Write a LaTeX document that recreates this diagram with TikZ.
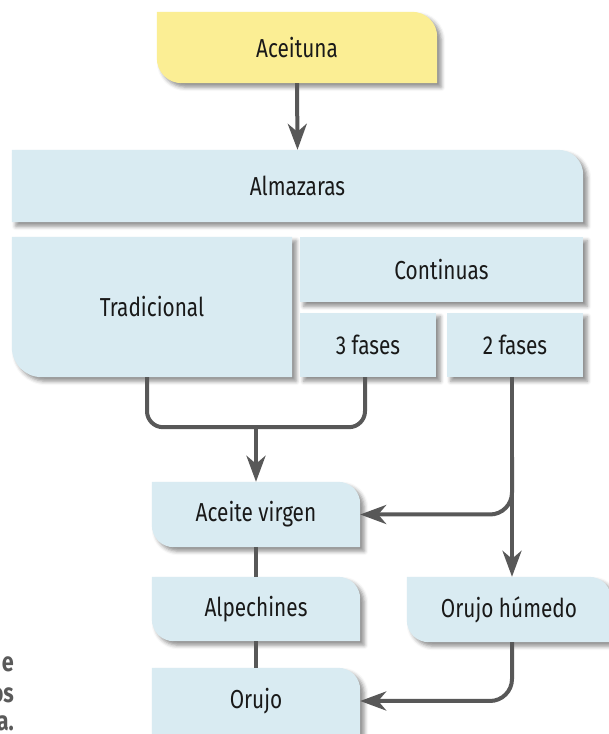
\documentclass[tikz,border=0pt]{standalone}
\usepackage{fontspec}
\setmainfont{Fira Sans}[FakeStretch=0.8]
\usetikzlibrary{arrows.meta,backgrounds,shadows.blur}
\definecolor{yelF}{RGB}{251,238,148}
\definecolor{bluF}{RGB}{217,235,242}
\definecolor{lineC}{RGB}{88,88,88}
\definecolor{txtC}{RGB}{25,25,25}
\definecolor{capC}{RGB}{90,90,90}
\newcommand\shTRBL[3]{\path[#3] (#1.north west) -- ([xshift=-#2]#1.north east) arc[start angle=90,end angle=0,radius=#2] -- (#1.south east) -- ([xshift=#2]#1.south west) arc[start angle=270,end angle=180,radius=#2] -- cycle;}
\newcommand\shTR[3]{\path[#3] (#1.north west) -- ([xshift=-#2]#1.north east) arc[start angle=90,end angle=0,radius=#2] -- (#1.south east) -- (#1.south west) -- cycle;}
\newcommand\shBL[3]{\path[#3] (#1.north west) -- (#1.north east) -- (#1.south east) -- ([xshift=#2]#1.south west) arc[start angle=270,end angle=180,radius=#2] -- cycle;}
\newcommand\shRect[2]{\path[#2] (#1.north west) rectangle (#1.south east);}
\tikzset{
  txtbox/.style={inner sep=0pt, text=txtC, font=\fontsize{26}{30}\selectfont},
  shade/.style={blur shadow={shadow xshift=4pt, shadow yshift=-4pt, shadow blur radius=4pt, shadow opacity=45}},
  yfill/.style={fill=yelF, shade},
  bfill/.style={fill=bluF, shade},
  conn/.style={draw=lineC, line width=4pt},
  arr/.style={conn, -{Stealth[length=26pt,width=19pt,inset=8pt]}},
  captxt/.style={inner sep=0pt, text=capC, font=\fontsize{27}{30}\selectfont\bfseries, anchor=base east}
}
\begin{document}
\begin{tikzpicture}[x=1pt,y=1pt]
\useasboundingbox (0,0) rectangle (609,734);
% nodes
\node[txtbox, minimum width=280pt, minimum height=71pt] (ace) at (297,686.5) {Aceituna};
\node[txtbox, minimum width=571pt, minimum height=72pt] (alm) at (297.5,548) {Almazaras};
\node[txtbox, minimum width=280pt, minimum height=140pt] (trad) at (152,427) {Tradicional};
\node[txtbox, minimum width=283pt, minimum height=65pt] (cont) at (441.5,464.5) {Continuas};
\node[txtbox, minimum width=136pt, minimum height=64pt] (f3) at (368,389) {3 fases};
\node[txtbox, minimum width=136pt, minimum height=64pt] (f2) at (515,389) {2 fases};
\node[txtbox, minimum width=208pt, minimum height=65pt] (av) at (256,219.5) {Aceite virgen};
\node[txtbox, minimum width=208pt, minimum height=64pt] (alp) at (256,125) {Alpechines};
\node[txtbox, minimum width=204pt, minimum height=65pt] (oh) at (509,124.5) {Orujo húmedo};
\node[txtbox, minimum width=208pt, minimum height=66pt] (oru) at (256,33) {Orujo};
% caption fragments (cut off at the left edge, as in the reference)
\node[captxt] (c1) at (14,62) {e};
\node[captxt] (c2) at (14,31) {os};
\node[captxt] (c3) at (14,3) {a.};
% shapes
\begin{scope}[on background layer]
\shTRBL{ace}{25pt}{yfill}
\shTR{alm}{25pt}{bfill}
\shBL{trad}{30pt}{bfill}
\shRect{cont}{bfill}
\shRect{f3}{bfill}
\shRect{f2}{bfill}
\shTRBL{av}{22pt}{bfill}
\shTRBL{alp}{22pt}{bfill}
\shTRBL{oh}{22pt}{bfill}
\shTR{oru}{22pt}{bfill}
\end{scope}
% connectors
\draw[arr] (ace.south) -- (alm.north);
\draw[conn, rounded corners=16pt] ([xshift=-5pt]trad.south) -- ++(0,-50) -| ([xshift=-3pt]f3.south);
\coordinate (mg) at (256,307);
\draw[arr] (mg) -- (av.north);
\draw[arr] ([xshift=-3pt]f2.south) coordinate (f2o) -- (f2o |- oh.north);
\draw[arr, rounded corners=22pt] ([yshift=-80pt]f2o) |- (av.east);
\draw[conn] (av.south) -- (alp.north);
\draw[conn] (alp.south) -- (oru.north);
\draw[arr, rounded corners=22pt] (oh.south -| f2o) |- (oru.east);
\end{tikzpicture}
\end{document}
